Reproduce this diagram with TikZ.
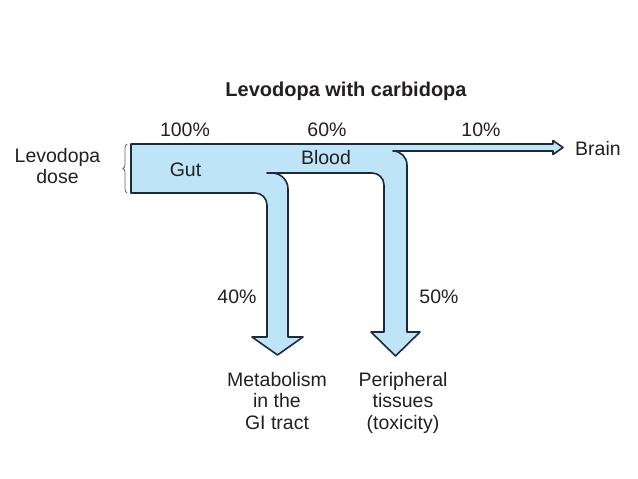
\documentclass[tikz,border=0pt]{standalone}
\usepackage{fontspec}
\setmainfont{Liberation Sans}
\usepackage{tikz}
\usetikzlibrary{decorations.pathreplacing}
\definecolor{flowblue}{RGB}{190,228,248}
\definecolor{flowline}{RGB}{30,42,58}
\definecolor{textgray}{RGB}{35,31,32}

\begin{document}
\begin{tikzpicture}[x=1pt,y=1pt,
		lbl/.style={inner sep=0pt,text=textgray,font=\fontsize{19.5}{21.5}\selectfont},
		lblbase/.style={lbl,anchor=base},
		lblblock/.style={lbl,anchor=north,align=center},
		titlelbl/.style={lblbase,font=\bfseries\fontsize{20}{24}\selectfont}]
			\useasboundingbox (0,0) rectangle (638,479);
			
			\filldraw[fill=flowblue,draw=flowline,line width=1.6pt,line join=round]
				(131,335) -- (553,335) -- (553,338.5) -- (563,331.5) -- (553,324.5) -- (553,328)
				-- (393,328) arc[start angle=90,end angle=0,radius=14]
				-- (407,147) -- (420,147) -- (395.5,123) -- (371,147) -- (384,147)
				-- (384,294) arc[start angle=0,end angle=90,radius=12]
				-- (267,306) -- (272,306) arc[start angle=90,end angle=0,radius=16]
				-- (288,142) -- (303,142) -- (277.5,124) -- (252,142) -- (267,142)
				-- (267,274) arc[start angle=0,end angle=90,radius=12]
				-- (131,286) -- cycle;
			
			\draw[textgray!70,line width=0.8pt,decorate,decoration={brace,amplitude=4pt}] (127,286) -- (127,335);
			
			\node[titlelbl] (title) at (346,382) {Levodopa with carbidopa};
			\node[lblblock] (dose) at (57.5,331) {Levodopa\\dose};
			
			\node[lblbase] (pgut) at (185,342) {100\%};
			\node[lblbase] (pblood) at (327,342) {60\%};
			\node[lblbase] (pbrain) at (481,342) {10\%};
			\node[lblbase,anchor=base west] (brain) at (575,323) {Brain};
			
			\node[lblbase] (gut) at (185.5,302) {Gut};
			\node[lblbase] (blood) at (326,314) {Blood};
			
			\node[lblbase] (pgi) at (237,175) {40\%};
			\node[lblbase] (ptox) at (439,175) {50\%};
			
			\node[lblblock] (gi) at (277,107) {Metabolism\\in the\\GI tract};
			\node[lblblock] (tox) at (403,107) {Peripheral\\tissues\\(toxicity)};
			
		\end{tikzpicture}
\end{document}
